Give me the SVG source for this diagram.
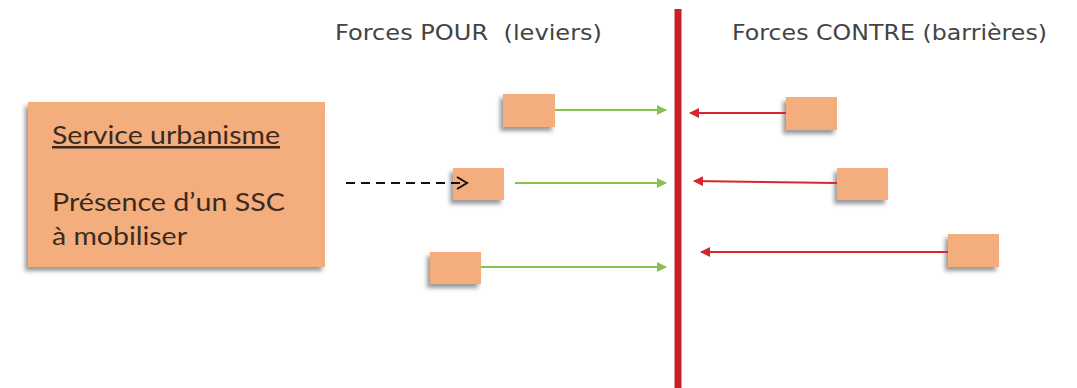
<svg xmlns="http://www.w3.org/2000/svg" width="1077" height="388" viewBox="0 0 1077 388">
  <style>
    .head { font-family: "DejaVu Sans", "Noto Sans", sans-serif; font-size: 21px; fill: #444; white-space: pre; }
    .box { fill: #f4ae7e; filter: url(#shadow); }
    .label { font-family: Lato, "Liberation Sans", sans-serif; font-size: 25px; fill: #3a2a20; }
    .pour { stroke: #86c24f; stroke-width: 2; fill: none; marker-end: url(#arrowGreen); }
    .contre { stroke: #d7262e; stroke-width: 2; fill: none; marker-end: url(#arrowRed); }
    .link { stroke: #111; stroke-width: 2; stroke-dasharray: 9 6; fill: none; }
  </style>
  <defs>
    <filter id="shadow" x="-30%" y="-30%" width="160%" height="170%">
      <feDropShadow dx="-3" dy="4" stdDeviation="2" flood-color="#555" flood-opacity="0.6"/>
    </filter>
    <marker id="arrowGreen" viewBox="0 0 10 10" refX="9" refY="5" markerWidth="5" markerHeight="5" orient="auto">
      <path d="M0,0 L10,5 L0,10 z" fill="#86c24f"/>
    </marker>
    <marker id="arrowRed" viewBox="0 0 10 10" refX="9" refY="5" markerWidth="5" markerHeight="5" orient="auto">
      <path d="M0,0 L10,5 L0,10 z" fill="#d7262e"/>
    </marker>
  </defs>

  <rect width="1077" height="388" fill="#fff"/>

  <!-- column headings -->
  <text class="head" x="335" y="40" xml:space="preserve" textLength="267" lengthAdjust="spacingAndGlyphs">Forces POUR  (leviers)</text>
  <text class="head" x="732" y="40" textLength="315" lengthAdjust="spacingAndGlyphs">Forces CONTRE (barrières)</text>

  <!-- equilibrium line -->
  <line x1="678" y1="9" x2="678" y2="388" stroke="#c8202a" stroke-width="7"/>

  <!-- actor -->
  <g id="service-urbanisme">
    <rect class="box" x="28" y="102" width="297" height="165"/>
    <text class="label" x="52" y="144" text-decoration="underline" textLength="228" lengthAdjust="spacingAndGlyphs">Service urbanisme</text>
    <text class="label" x="52" y="211" textLength="233" lengthAdjust="spacingAndGlyphs">Présence d’un SSC</text>
    <text class="label" x="52" y="245" textLength="135" lengthAdjust="spacingAndGlyphs">à mobiliser</text>
  </g>

  <!-- driving forces -->
  <g id="pour-1"><rect class="box" x="503" y="94" width="52" height="33"/></g>
  <g id="pour-2"><rect class="box" x="453" y="168" width="51" height="32"/></g>
  <g id="pour-3"><rect class="box" x="430" y="252" width="51" height="32"/></g>

  <!-- restraining forces -->
  <g id="contre-1"><rect class="box" x="786" y="97" width="51" height="33"/></g>
  <g id="contre-2"><rect class="box" x="837" y="168" width="51" height="32"/></g>
  <g id="contre-3"><rect class="box" x="948" y="234" width="51" height="33"/></g>

  <g id="connectors">
    <line class="pour" x1="555" y1="110" x2="666" y2="110"/>
    <line class="pour" x1="515" y1="183" x2="666" y2="183"/>
    <line class="pour" x1="481" y1="267" x2="666" y2="267"/>
    <line class="contre" x1="786" y1="113" x2="690" y2="113"/>
    <line class="contre" x1="837" y1="183" x2="694" y2="181"/>
    <line class="contre" x1="948" y1="252" x2="701" y2="252"/>
    <line class="link" x1="346" y1="183" x2="464" y2="183"/>
    <path d="M457,177 L467,183 L457,189" stroke="#111" stroke-width="2" fill="none"/>
  </g>
</svg>
